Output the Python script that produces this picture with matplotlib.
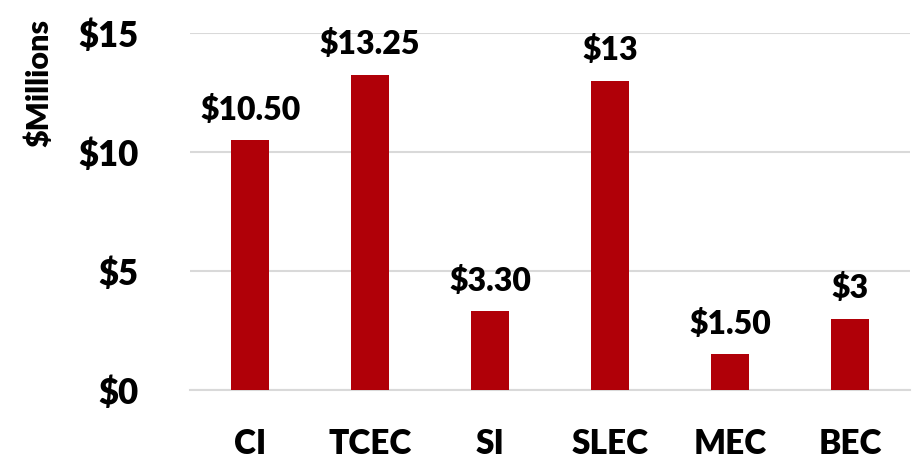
import matplotlib
matplotlib.use("Agg")
from matplotlib import pyplot as plt
import numpy as np

plt.rcParams['font.family'] = ['Lato', 'DejaVu Sans']
plt.rcParams['font.weight'] = 'heavy'

categories = ["CI", "TCEC", "SI", "SLEC", "MEC", "BEC"]
values = [10.50, 13.25, 3.30, 13.0, 1.50, 3.0]
value_labels = ["$10.50", "$13.25", "$3.30", "$13", "$1.50", "$3"]
yticks = [0, 5, 10, 15]
ytick_labels = ["$0", "$5", "$10", "$15"]

bar_color = "#B00008"
grid_color = "#D9D9D9"
fw = "heavy"

fig = plt.figure(figsize=(9.15, 4.59), dpi=100)
ax = fig.add_axes([0.2077, 0.1503, 0.787, 0.7777])

x = np.arange(len(categories))
bars = ax.bar(x, values, width=0.32, color=bar_color, zorder=3)

for xi, v, lab in zip(x, values, value_labels):
    ax.annotate(lab.replace("$", r"\$"), (xi, v), xytext=(0, 11), textcoords="offset points",
                ha="center", va="bottom", fontsize=23, fontweight=fw)

ax.set_xlim(-0.5, len(categories) - 0.5)
ax.set_ylim(0, 15)
ax.set_yticks(yticks)
ax.set_yticklabels([t.replace("$", r"\$") for t in ytick_labels], fontsize=25, fontweight=fw)
ax.set_xticks(x)
ax.set_xticklabels(categories, fontsize=24, fontweight=fw)
ax.tick_params(axis="y", length=0, pad=37)
ax.tick_params(axis="x", length=0, pad=27)

ax.yaxis.grid(True, color=grid_color, linewidth=1.5, zorder=0)
for s in ["top", "right", "left"]:
    ax.spines[s].set_visible(False)
ax.spines["bottom"].set_color(grid_color)
ax.spines["bottom"].set_linewidth(1.5)

ax.set_ylabel(r"\$Millions", fontsize=22, fontweight=fw, labelpad=0)
ax.yaxis.set_label_coords(-0.19, 0.86)

fig.savefig("out.png", dpi=100)
